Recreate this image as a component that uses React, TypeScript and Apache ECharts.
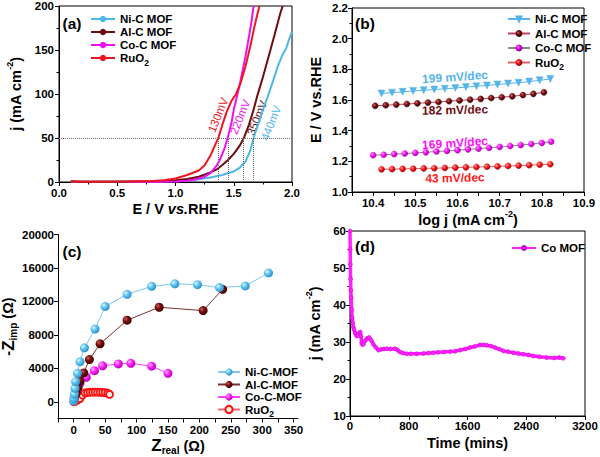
import React, { useEffect, useRef } from 'react';
import * as echarts from 'echarts';

const FONT = '"Liberation Sans", Arial, Helvetica, sans-serif';

// ---------- (a) LSV curves: [E (V vs RHE), j (mA cm-2)] ----------
const lsvNi: [number, number][] = [[0.1, 0.2], [0.4, 0.2], [0.6, 0.3], [0.8, 0.4], [1.0, 1], [1.1, 1.5], [1.2, 3], [1.3, 5], [1.4, 8], [1.5, 12], [1.55, 16], [1.6, 23], [1.64, 35], [1.67, 50], [1.7, 62], [1.75, 82], [1.8, 100], [1.84, 116], [1.88, 132], [1.92, 145], [1.95, 152], [1.97, 160], [2.0, 171]];
const lsvAl: [number, number][] = [[0.1, 0.8], [0.2, 0.3], [0.6, 0.6], [0.8, 0.6], [1.0, 2], [1.1, 3.5], [1.2, 6], [1.3, 11], [1.35, 14], [1.4, 19], [1.45, 25], [1.5, 32], [1.55, 41], [1.59, 51], [1.63, 65], [1.67, 82], [1.7, 97], [1.75, 119], [1.8, 143], [1.85, 167], [1.9, 192], [1.92, 200]];
const lsvCo: [number, number][] = [[0.6, 0.2], [0.9, 0.3], [1.0, 0.5], [1.1, 1.5], [1.15, 2.5], [1.2, 4], [1.25, 6], [1.3, 10], [1.35, 18], [1.38, 25], [1.42, 38], [1.45, 51], [1.48, 67], [1.5, 82], [1.55, 110], [1.6, 142], [1.65, 180], [1.67, 200]];
const lsvRu: [number, number][] = [[0.1, 0.6], [0.3, 0.3], [0.6, 0.5], [0.8, 1], [0.9, 2], [1.0, 4], [1.1, 8], [1.2, 13], [1.25, 19], [1.3, 30], [1.34, 42], [1.37, 51], [1.4, 64], [1.44, 80], [1.48, 92], [1.52, 100], [1.56, 113], [1.6, 131], [1.64, 153], [1.68, 178], [1.72, 200]];
const overpotE = [1.367, 1.45, 1.585, 1.67];
const overpotLabels = ['130mV', '220mV', '350mV', '440mV'];

// ---------- (b) Tafel ----------
const tafNiX = [10.42, 10.445, 10.47, 10.495, 10.52, 10.545, 10.57, 10.595, 10.62, 10.645, 10.67, 10.695, 10.72, 10.745, 10.77, 10.795, 10.82];
const tafNiY = [1.643, 1.648, 1.653, 1.659, 1.664, 1.668, 1.673, 1.678, 1.684, 1.690, 1.695, 1.701, 1.707, 1.713, 1.720, 1.728, 1.737];
const tafAlX = [10.405, 10.43, 10.455, 10.48, 10.505, 10.53, 10.555, 10.58, 10.605, 10.63, 10.655, 10.68, 10.705, 10.73, 10.755, 10.78, 10.805];
const tafAlY = [1.562, 1.566, 1.570, 1.574, 1.578, 1.583, 1.587, 1.592, 1.597, 1.602, 1.607, 1.613, 1.618, 1.624, 1.632, 1.640, 1.650];
const tafCoX = [10.40, 10.425, 10.45, 10.475, 10.5, 10.525, 10.55, 10.575, 10.6, 10.625, 10.65, 10.675, 10.7, 10.725, 10.75, 10.775, 10.8, 10.822];
const tafCoY = [1.240, 1.243, 1.247, 1.251, 1.255, 1.259, 1.264, 1.268, 1.273, 1.278, 1.283, 1.288, 1.294, 1.300, 1.306, 1.313, 1.320, 1.328];
const tafRuX = [10.42, 10.445, 10.47, 10.495, 10.52, 10.545, 10.57, 10.595, 10.62, 10.645, 10.67, 10.695, 10.72, 10.745, 10.77, 10.795, 10.82];
const tafRuY = [1.148, 1.149, 1.151, 1.152, 1.154, 1.155, 1.157, 1.159, 1.161, 1.163, 1.165, 1.167, 1.170, 1.172, 1.175, 1.178, 1.181];
const tafelSlopes = ['199 mV/dec', '182 mV/dec', '169 mV/dec', '43 mV/dec'];

// ---------- (c) Nyquist: [Zreal, -Zimp] ----------
const nyqNi: [number, number][] = [[0, 100], [0.5, 400], [1, 900], [2, 1600], [3, 2400], [6, 3400], [10, 4800], [17, 6450], [34, 8700], [50, 11400], [85, 12850], [124, 13800], [161, 14100], [197, 14000], [232, 13650], [273, 13850], [310, 15400]];
const nyqAl: [number, number][] = [[1, 400], [4, 1000], [7, 1700], [10, 2500], [16, 3450], [25, 5050], [42, 6930], [85, 9750], [136, 11300], [206, 10900], [237, 13450]];
const nyqCo: [number, number][] = [[1, 600], [4, 1400], [10, 2200], [20, 2930], [33, 3720], [46, 4300], [71, 4530], [91, 4600], [124, 4250], [150, 3400]];
const nyqRu: [number, number][] = [[0, 0], [3, 60], [6, 200], [10, 380], [14, 780], [18, 1050], [22, 1110], [26, 1140], [30, 1150], [34, 1160], [38, 1150], [42, 1140], [46, 1130], [50, 1100], [54, 1030], [57, 880]];

// ---------- (d) Chronoamperometry ----------
const timeMin = [0, 3, 5, 8, 12, 16, 23, 30, 36, 45, 54, 70, 91, 110, 127, 140, 150, 159, 170, 182, 200, 227, 245, 263, 290, 318, 350, 386, 420, 460, 500, 550, 613, 650, 681, 720, 772, 830, 908, 1000, 1070, 1135, 1200, 1280, 1362, 1430, 1498, 1570, 1634, 1700, 1770, 1820, 1861, 1920, 1975, 2030, 2088, 2150, 2225, 2290, 2360, 2430, 2497, 2580, 2678, 2780, 2850, 2905];
const currentJ = [60, 55, 51, 47, 44, 42, 38.8, 36.5, 35.2, 34, 33.4, 32.4, 31.6, 31.8, 32.5, 32.7, 31.5, 29.8, 29.3, 29.4, 30.2, 30.8, 31.1, 31.2, 30.4, 29.4, 28.6, 27.8, 28, 28.1, 28.2, 28.1, 28.2, 27.8, 27.3, 27, 26.8, 26.8, 26.8, 26.9, 27, 27.1, 27.2, 27.3, 27.4, 27.5, 27.8, 28.1, 28.5, 28.8, 29.2, 29.2, 29.1, 28.9, 28.5, 28.1, 27.6, 27.4, 27.1, 26.9, 26.7, 26.5, 26.2, 26, 25.8, 25.7, 25.8, 25.6];

const zip = (xs: number[], ys: number[]) => xs.map((x, i) => [x, ys[i]]);

const NI = '#4db6ea';
const AL = '#6e0c10';
const CO = '#ee10ee';
const RU = '#ee1520';

const nameMap: Record<string, string> = {
  aNi: 'Ni-C MOF', aAl: 'Al-C MOF', aCo: 'Co-C MOF', aRu: 'RuO{sub|2}',
  bNi: 'Ni-C MOF', bAl: 'Al-C MOF', bCo: 'Co-C MOF', bRu: 'RuO{sub|2}',
  cNi: 'Ni-C-MOF', cAl: 'Al-C-MOF', cCo: 'Co-C-MOF', cRu: 'RuO{sub|2}',
  dCo: 'Co MOF',
};

const sphere = (light: string, mid: string, dark: string) =>
  new echarts.graphic.RadialGradient(0.35, 0.35, 0.7, [
    { offset: 0, color: light },
    { offset: 0.45, color: mid },
    { offset: 1, color: dark },
  ]);

const richSub = {
  sub: { fontSize: 8.5, fontWeight: 'bold', fontFamily: FONT, verticalAlign: 'bottom', padding: [9, 0, 0, 0] },
};

function legendCfg(data: string[], left: number, top: number, itemGap: number, itemWidth: number, itemHeight: number, fontSize: number) {
  return {
    data, left, top, orient: 'vertical', itemGap, itemWidth, itemHeight,
    selectedMode: false,
    formatter: (n: string) => nameMap[n] || n,
    textStyle: { fontFamily: FONT, fontWeight: 'bold', fontSize, color: '#000', padding: [0, 0, 0, 0], rich: richSub },
  };
}

const nameStyle = (size = 14.5) => ({
  fontFamily: FONT, fontWeight: 'bold', fontSize: size, color: '#000',
  rich: {
    sup: { fontSize: 9, fontWeight: 'bold', fontFamily: FONT, verticalAlign: 'top', padding: [0, 0, 12, 0] },
    sub: { fontSize: 10, fontWeight: 'bold', fontFamily: FONT, verticalAlign: 'bottom', padding: [10, 0, 0, 0] },
    it: { fontSize: size, fontWeight: 'bold', fontStyle: 'italic', fontFamily: FONT },
    big: { fontSize: 17, fontWeight: 'bold', fontFamily: FONT },
  },
});

const labelBase = { color: '#000', fontFamily: FONT, fontWeight: 'bold', fontSize: 11.5, margin: 4 };
const plain = (v: number) => String(v);

function axis(extra: any) {
  return {
    type: 'value',
    nameLocation: 'middle',
    axisLine: { show: true, onZero: false, lineStyle: { color: '#000', width: 1 } },
    axisTick: { show: true, length: 4, lineStyle: { color: '#000' } },
    minorTick: { show: true, splitNumber: 2, length: 2.5, lineStyle: { color: '#000' } },
    splitLine: { show: false },
    minorSplitLine: { show: false },
    axisLabel: { ...labelBase, formatter: plain },
    nameTextStyle: nameStyle(),
    ...extra,
  };
}

export default function App() {
  const ref = useRef<HTMLDivElement>(null);
  useEffect(() => {
    if (!ref.current) return;
    const chart = echarts.init(ref.current, undefined, { renderer: 'svg' });
    const gridBase = { show: true, borderColor: '#000', borderWidth: 1, backgroundColor: 'transparent', containLabel: false, outerBoundsMode: 'none' };

    const markLineA = {
      silent: true,
      symbol: 'none',
      label: { show: false },
      lineStyle: { type: 'dotted', color: '#666', width: 1 },
      data: [
        { yAxis: 50 },
        ...overpotE.map((e) => [{ coord: [e, 0] }, { coord: [e, 50] }]),
      ],
    };

    const lineA = (name: string, data: any, color: string, extra: any = {}) => ({
      name, type: 'line', xAxisIndex: 0, yAxisIndex: 0, data, symbol: 'none', showSymbol: false,
      lineStyle: { color, width: 2 }, itemStyle: { color }, ...extra,
    });

    const tafel = (name: string, xs: number[], ys: number[], color: string, lineColor: string, symbol: string, extra: any = {}) => ({
      name, type: 'line', xAxisIndex: 1, yAxisIndex: 1, data: zip(xs, ys), symbol, symbolSize: 6,
      lineStyle: { color: lineColor, width: 1 }, itemStyle: { color, borderColor: color, borderWidth: 0.5 }, ...extra,
    });

    const nyq = (name: string, data: any, fill: any, lineColor: string, size: number, extra: any = {}) => ({
      name, type: 'line', xAxisIndex: 2, yAxisIndex: 2, data, symbol: 'circle', symbolSize: size,
      lineStyle: { color: lineColor, width: 1 }, itemStyle: { color: fill }, ...extra,
    });

    const txt = (text: string, x: number, y: number, color: string, size: number, rotation = 0, weight = 'bold') => ({
      type: 'text', x, y, rotation,
      style: { text, fill: color, fontFamily: FONT, fontSize: size, fontWeight: weight, align: 'center', verticalAlign: 'middle' },
    });

    const option: any = {
      animation: false,
      backgroundColor: '#fff',
      grid: [
        { ...gridBase, left: 59, top: 6, width: 233, height: 176 },
        { ...gridBase, left: 352, top: 8, width: 232, height: 184 },
        { ...gridBase, show: false, left: 58, top: 234.5, width: 240, height: 184 },
        { ...gridBase, left: 350, top: 231, width: 235, height: 185 },
      ],
      xAxis: [
        axis({ gridIndex: 0, min: 0, max: 2, interval: 0.5, name: 'E / V {it|vs.}RHE', nameGap: 19,
          axisLabel: { ...labelBase, margin: 5, formatter: (v: number) => v.toFixed(1) } }),
        axis({ gridIndex: 1, min: 10.35, max: 10.9, name: 'log j (mA cm{sup|-2})', nameGap: 17,
          minorTick: { show: false },
          axisTick: { show: true, length: 4, lineStyle: { color: '#000' }, customValues: [10.35, 10.4, 10.45, 10.5, 10.55, 10.6, 10.65, 10.7, 10.75, 10.8, 10.85, 10.9] },
          axisLabel: { ...labelBase, margin: 5, customValues: [10.4, 10.5, 10.6, 10.7, 10.8, 10.9], formatter: (v: number) => v.toFixed(1) } }),
        axis({ gridIndex: 2, min: -25, max: 357, name: '{big|Z}{sub|real} (Ω)', nameGap: 17,
          minorTick: { show: false },
          axisTick: { show: true, length: 4, lineStyle: { color: '#000' }, customValues: [-25, 0, 25, 50, 75, 100, 125, 150, 175, 200, 225, 250, 275, 300, 325, 350] },
          axisLabel: { ...labelBase, margin: 5, customValues: [0, 50, 100, 150, 200, 250, 300, 350], formatter: plain } }),
        axis({ gridIndex: 3, min: 0, max: 3200, interval: 800, name: 'Time (mins)', nameGap: 19 }),
      ],
      yAxis: [
        axis({ gridIndex: 0, min: 0, max: 200, interval: 50, name: 'j (mA cm{sup|-2})', nameGap: 33,
          axisLabel: { ...labelBase, margin: 5, formatter: plain } }),
        axis({ gridIndex: 1, min: 1.0, max: 2.2, interval: 0.2, name: 'E / V vs.RHE', nameGap: 29,
          axisLabel: { ...labelBase, formatter: (v: number) => v.toFixed(1) } }),
        axis({ gridIndex: 2, min: -2000, max: 20000, name: '-{big|Z}{sub|imp} (Ω)', nameGap: 31,
          minorTick: { show: false },
          axisTick: { show: true, length: 4, lineStyle: { color: '#000' }, customValues: [0, 4000, 8000, 12000, 16000, 20000] },
          axisLabel: { ...labelBase, customValues: [0, 4000, 8000, 12000, 16000, 20000], formatter: plain } }),
        axis({ gridIndex: 3, min: 10, max: 60, interval: 10, name: 'j (mA cm{sup|-2})', nameGap: 25 }),
      ],
      legend: [
        legendCfg(['aNi', 'aAl', 'aCo', 'aRu'], 85, 8, 1, 24, 8, 11.5),
        legendCfg(['bNi', 'bAl', 'bCo', 'bRu'], 502, 8, 2.5, 22, 6, 11.5),
        legendCfg(['cNi', 'cAl', 'cCo', 'cRu'], 212, 361, 0.5, 22, 9, 11.5),
        legendCfg(['dCo'], 506, 237, 2, 24, 5, 11.5),
      ],
      series: [
        lineA('aNi', lsvNi, NI, { markLine: markLineA }),
        lineA('aAl', lsvAl, AL),
        lineA('aCo', lsvCo, CO),
        lineA('aRu', lsvRu, RU),

        tafel('bNi', tafNiX, tafNiY, '#55b4e8', '#55b4e8', 'triangle', { symbolRotate: 180, symbolSize: 7 }),
        tafel('bAl', tafAlX, tafAlY, sphere('#c87070', '#7a1010', '#3a0000'), '#c04060', 'circle'),
        tafel('bCo', tafCoX, tafCoY, sphere('#ffb0ff', '#ff10ff', '#a000a0'), '#888888', 'circle'),
        tafel('bRu', tafRuX, tafRuY, sphere('#ffb0b0', '#ff1a1a', '#a00000'), '#e06070', 'circle'),

        nyq('cRu', nyqRu, '#fff3e0', '#ff6070', 7, { itemStyle: { color: '#fff3e6', borderColor: '#ff1010', borderWidth: 1.8 } }),
        nyq('cCo', nyqCo, sphere('#ffc0ff', '#ff20ff', '#b000b0'), '#ff40ff', 9),
        nyq('cAl', nyqAl, sphere('#c06060', '#7a0a0a', '#3a0000'), '#7a3030', 9),
        nyq('cNi', nyqNi, sphere('#e0f6ff', '#5cc4f0', '#2a8cc8'), '#7cc8ee', 9),

        {
          name: 'dCo', type: 'line', xAxisIndex: 3, yAxisIndex: 3, data: zip(timeMin, currentJ),
          symbol: 'circle', symbolSize: 4, showAllSymbol: true,
          lineStyle: { color: '#ff22ff', width: 3.5 }, itemStyle: { color: '#ff22ff', borderColor: '#cc00cc', borderWidth: 0.5 },
        },
      ],
      graphic: [
        txt('(a)', 72, 23, '#000', 15.5),
        txt('(b)', 365, 23, '#000', 15.5),
        txt('(c)', 72, 251, '#000', 15.5),
        txt('(d)', 365, 246, '#000', 15.5),
        txt(overpotLabels[0], 218, 115, RU, 11.5, 1.19, 'normal'),
        txt(overpotLabels[1], 240, 117, CO, 11.5, 1.19, 'normal'),
        txt(overpotLabels[2], 257, 118, AL, 11.5, 1.19, 'normal'),
        txt(overpotLabels[3], 271, 123, NI, 11.5, 1.19, 'normal'),
        txt(tafelSlopes[0], 455, 77, '#55b4e8', 12, 0.07),
        txt(tafelSlopes[1], 455, 110, AL, 12, 0.02),
        txt(tafelSlopes[2], 455, 143, '#ff10ff', 12, 0.07),
        txt(tafelSlopes[3], 455, 178, '#ff1a1a', 12, 0.02),
      ],
    };
    chart.setOption(option);
    return () => chart.dispose();
  }, []);
  return <div ref={ref} style={{ position: 'fixed', left: 0, top: 0, width: 600, height: 457 }} />;
}
